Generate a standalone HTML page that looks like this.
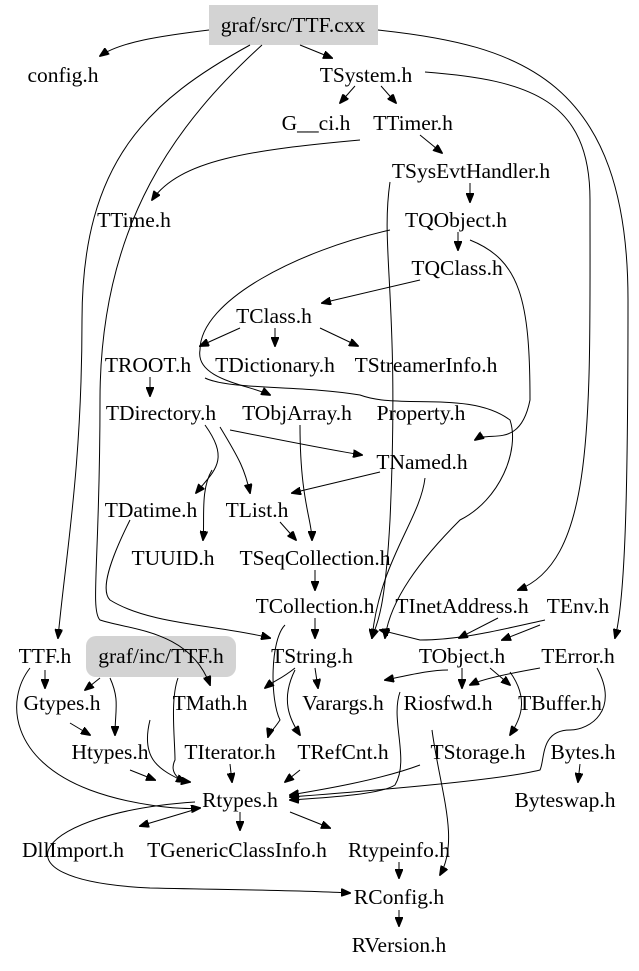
<!DOCTYPE html>
<html><head><meta charset="utf-8"><style>
html,body{margin:0;padding:0;background:#fff;}
svg{display:block;}
text{font-family:"Liberation Serif",serif;font-size:21.5px;fill:#000;}
path{fill:none;stroke:#000;stroke-width:1;}
</style></head><body>
<svg width="639" height="971" viewBox="0 0 639 971" xmlns="http://www.w3.org/2000/svg">
<defs><marker id="a" markerWidth="10" markerHeight="8" refX="9" refY="4" orient="auto" markerUnits="userSpaceOnUse"><path d="M0,0 L10,4 L0,8 z" style="fill:#000;stroke:#000"/></marker></defs>
<rect x="209" y="5" width="169" height="40" fill="#d3d3d3"/>
<rect x="86" y="636" width="150" height="41" rx="10" fill="#d3d3d3"/>
<g marker-end="url(#a)">
<path d="M209,30 C160,36 120,42 100,56"/>
<path d="M300,45 L332,58"/>
<path d="M250,45 C150,100 82,160 82,320 C82,470 65,560 58,638"/>
<path d="M262,45 C180,120 100,220 100,400 C100,560 90,610 100,620 C130,630 190,630 210,685"/>
<path d="M378,30 C520,45 628,80 628,300 C628,500 625,600 615,638"/>
<path d="M355,86 L340,103"/>
<path d="M381,86 L396,103"/>
<path d="M425,72 C530,80 590,100 590,200 C590,420 595,560 518,590"/>
<path d="M420,135 L442,153"/>
<path d="M360,140 C250,150 180,160 152,200"/>
<path d="M470,183 L470,202"/>
<path d="M390,182 C380,250 400,300 390,520 C385,610 378,620 372,638"/>
<path d="M458,232 L458,250"/>
<path d="M420,280 L322,303"/>
<path d="M240,328 L200,346"/>
<path d="M275,328 L275,346"/>
<path d="M320,328 L358,346"/>
<path d="M150,377 L150,396"/>
<path d="M205,425 C230,460 215,470 196,493"/>
<path d="M220,427 C240,460 245,470 250,493"/>
<path d="M280,522 L296,540"/>
<path d="M315,570 L315,590"/>
<path d="M315,618 L315,638"/>
<path d="M300,425 C300,500 312,520 312,540"/>
<path d="M380,472 L292,493"/>
<path d="M230,430 C280,440 330,450 362,455"/>
<path d="M205,378 C230,390 300,385 360,395 C400,410 470,390 510,420 C520,450 500,500 460,520 C420,560 390,600 385,638"/>
<path d="M425,478 C420,520 380,560 372,638"/>
<path d="M212,470 C200,490 205,520 203,540"/>
<path d="M130,520 C110,560 100,590 110,600 C150,625 220,625 270,638"/>
<path d="M470,240 C520,260 530,300 530,400 C520,450 490,430 475,440"/>
<path d="M390,230 C300,250 200,300 200,350 C195,380 250,385 270,395"/>
<path d="M498,618 L459,638"/>
<path d="M545,620 C500,630 460,640 420,640 L380,630"/>
<path d="M540,625 L502,640"/>
<path d="M295,668 C280,680 275,680 265,688"/>
<path d="M315,668 L318,688"/>
<path d="M295,670 C280,700 290,720 300,735"/>
<path d="M285,625 C270,640 270,700 280,720 C270,735 270,730 268,737"/>
<path d="M462,668 L462,688"/>
<path d="M448,670 C430,670 410,675 385,680"/>
<path d="M540,668 C500,675 480,680 470,685"/>
<path d="M490,668 L510,685"/>
<path d="M510,672 C530,700 520,720 510,735"/>
<path d="M597,668 C620,710 590,730 570,730 C540,730 545,760 540,770 C500,780 380,790 290,797"/>
<path d="M30,668 C5,700 10,760 90,790 C130,805 180,810 200,808"/>
<path d="M45,670 L45,688"/>
<path d="M100,678 L85,690"/>
<path d="M110,678 C120,700 115,710 115,735"/>
<path d="M70,723 L90,735"/>
<path d="M130,770 L155,780"/>
<path d="M230,764 L232,782"/>
<path d="M300,770 L285,782"/>
<path d="M150,720 C140,760 160,770 185,782"/>
<path d="M178,678 C170,700 175,740 175,760 C170,770 175,780 190,782"/>
<path d="M420,765 C380,780 320,790 290,795"/>
<path d="M400,692 C390,720 410,760 395,785 C380,795 320,798 290,800"/>
<path d="M432,730 C440,790 460,840 440,875"/>
<path d="M580,764 L578,782"/>
<path d="M200,808 L140,826"/>
<path d="M240,812 L240,830"/>
<path d="M290,812 L330,828"/>
<path d="M195,802 C40,812 -20,880 150,888 C240,890 300,890 350,893"/>
<path d="M399,862 L399,878"/>
<path d="M399,910 L399,926"/>
</g>
<g text-anchor="middle">
<text x="293" y="32">graf/src/TTF.cxx</text>
<text x="63" y="82">config.h</text>
<text x="366" y="82">TSystem.h</text>
<text x="316" y="130">G__ci.h</text>
<text x="413" y="130">TTimer.h</text>
<text x="471" y="178">TSysEvtHandler.h</text>
<text x="134" y="227">TTime.h</text>
<text x="456" y="227">TQObject.h</text>
<text x="457" y="275">TQClass.h</text>
<text x="274" y="323">TClass.h</text>
<text x="148" y="372">TROOT.h</text>
<text x="275" y="372">TDictionary.h</text>
<text x="426" y="372">TStreamerInfo.h</text>
<text x="161" y="420">TDirectory.h</text>
<text x="297" y="420">TObjArray.h</text>
<text x="421" y="420">Property.h</text>
<text x="422" y="469">TNamed.h</text>
<text x="151" y="517">TDatime.h</text>
<text x="257" y="517">TList.h</text>
<text x="173" y="565">TUUID.h</text>
<text x="315" y="565">TSeqCollection.h</text>
<text x="315" y="613">TCollection.h</text>
<text x="462" y="613">TInetAddress.h</text>
<text x="578" y="613">TEnv.h</text>
<text x="45" y="663">TTF.h</text>
<text x="161" y="663">graf/inc/TTF.h</text>
<text x="312" y="663">TString.h</text>
<text x="462" y="663">TObject.h</text>
<text x="578" y="663">TError.h</text>
<text x="62" y="710">Gtypes.h</text>
<text x="210" y="710">TMath.h</text>
<text x="343" y="710">Varargs.h</text>
<text x="448" y="710">Riosfwd.h</text>
<text x="560" y="710">TBuffer.h</text>
<text x="110" y="759">Htypes.h</text>
<text x="230" y="759">TIterator.h</text>
<text x="343" y="759">TRefCnt.h</text>
<text x="478" y="759">TStorage.h</text>
<text x="583" y="759">Bytes.h</text>
<text x="240" y="807">Rtypes.h</text>
<text x="565" y="807">Byteswap.h</text>
<text x="73" y="857">DllImport.h</text>
<text x="237" y="857">TGenericClassInfo.h</text>
<text x="399" y="857">Rtypeinfo.h</text>
<text x="399" y="904">RConfig.h</text>
<text x="399" y="952">RVersion.h</text>
</g>
</svg>
</body></html>
